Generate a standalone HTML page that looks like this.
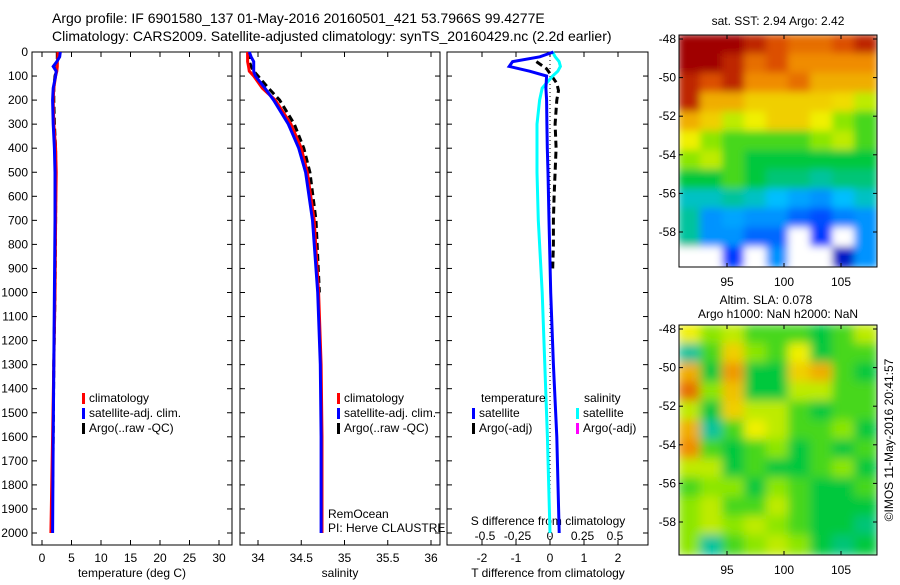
<!DOCTYPE html>
<html><head><meta charset="utf-8"><style>
body{margin:0;background:#fff}
svg text{font-family:"Liberation Sans",sans-serif;font-size:12px;fill:#000}
</style></head><body>
<svg id="s" width="900" height="580" viewBox="0 0 900 580">
<text x="52" y="23" style="font-size:14px">Argo profile: IF 6901580_137 01-May-2016 20160501_421 53.7966S 99.4277E</text>
<text x="52" y="41" style="font-size:14px">Climatology: CARS2009. Satellite-adjusted climatology: synTS_20160429.nc (2.2d earlier)</text>
</svg>
<script>
const depths=[0,20,40,60,80,100,150,200,300,400,500,700,1000,1300,1600,2000];
const tempClim=[2.7,2.7,2.6,2.6,2.5,2.3,2.0,1.9,2.0,2.3,2.4,2.3,2.2,2.0,1.8,1.5];
const tempSat=[3.1,3.0,2.5,1.9,2.4,2.3,1.9,1.8,1.9,2.1,2.2,2.2,2.1,2.0,1.9,1.8];
const tempArgo=[2.6,2.6,2.6,2.5,2.4,2.2,2.0,2.0,2.1,2.3,2.3,2.3,2.2,2.0,1.9,1.7];
const salClim=[33.88,33.88,33.88,33.89,33.9,33.95,34.05,34.2,34.38,34.5,34.57,34.65,34.7,34.73,34.74,34.74];
const salSat=[33.9,33.92,33.95,33.95,33.95,33.97,34.08,34.18,34.35,34.47,34.55,34.63,34.69,34.72,34.73,34.73];
const salArgoDepths=[0,20,40,60,80,100,150,200,300,400,500,700,1000];
const salArgo=[33.9,33.9,33.9,33.92,33.95,34.0,34.12,34.25,34.42,34.53,34.6,34.67,34.71];
const tDiffSat=[0.1,-0.3,-1.1,-1.2,-0.6,-0.1,-0.12,-0.1,-0.09,-0.08,-0.06,-0.03,0.02,0.1,0.2,0.27];
const sDiffSat=[0.02,0.04,0.07,0.08,0.06,0.02,-0.06,-0.08,-0.1,-0.1,-0.1,-0.09,-0.06,-0.04,-0.02,0.0];
const tArgoDepths=[40,70,100,130,160,200,300,400,500,600,700,800,900];
const tDiffArgo=[-0.4,-0.1,0.05,0.2,0.25,0.2,0.15,0.18,0.15,0.12,0.1,0.1,0.08];
const depthTicks=[0,100,200,300,400,500,600,700,800,900,1000,1100,1200,1300,1400,1500,1600,1700,1800,1900,2000];
const tempTicks=[0,5,10,15,20,25,30];
const salTicks=[34,34.5,35,35.5,36];
const salTickLabels=['34','34.5','35','35.5','36'];
const tdTicks=[-2,-1,0,1,2];
const sdTicks=[-0.5,-0.25,0,0.25,0.5];
const sdTickLabels=['-0.5','-0.25','0','0.25','0.5'];
const latTicks=[-48,-50,-52,-54,-56,-58];
const lonTicks=[95,100,105];
const sstGrid=[
[1,1,1,0.95,0.9,0.85,0.85,0.9,0.95],
[1,1,0.95,0.85,0.9,0.8,0.8,0.8,0.8],
[0.95,0.9,0.95,0.8,0.8,0.85,0.75,0.75,0.75],
[0.95,0.75,0.75,0.7,0.7,0.7,0.7,0.68,0.6],
[0.75,0.7,0.6,0.65,0.7,0.7,0.65,0.55,0.5],
[0.65,0.55,0.5,0.5,0.5,0.5,0.55,0.6,0.5],
[0.55,0.6,0.5,0.45,0.45,0.45,0.45,0.45,0.45],
[0.45,0.45,0.5,0.45,0.42,0.42,0.4,0.42,0.42],
[0.38,0.38,0.4,0.38,0.35,0.32,0.3,0.35,0.38],
[0.4,0.3,0.32,0.3,0.3,0.25,0.22,0.28,0.3],
[0.4,0.3,0.3,0.25,0.25,-1,0.2,-1,0.3],
[-1,-1,0.2,-1,0.3,-1,-1,0.1,0.3]];
const slaGrid=[
[0.65,0.55,0.6,0.5,0.5,0.5,0.45,0.5,0.6],
[0.4,0.5,0.7,0.55,0.5,0.65,0.45,0.5,0.5],
[0.75,0.45,0.78,0.45,0.45,0.7,0.75,0.5,0.45],
[0.85,0.55,0.72,0.45,0.45,0.6,0.6,0.5,0.5],
[0.6,0.45,0.7,0.6,0.6,0.5,0.45,0.5,0.5],
[0.75,0.4,0.5,0.65,0.6,0.5,0.5,0.55,0.45],
[0.8,0.5,0.45,0.5,0.55,0.45,0.5,0.45,0.5],
[0.6,0.6,0.45,0.5,0.45,0.45,0.5,0.55,0.45],
[0.5,0.55,0.55,0.45,0.55,0.5,0.45,0.45,0.5],
[0.55,0.6,0.5,0.5,0.6,0.5,0.45,0.45,0.45],
[0.55,0.6,0.55,0.6,0.55,0.5,0.45,0.45,0.42],
[0.55,0.4,0.5,0.55,0.6,0.55,0.45,0.42,0.45]];

const NS='http://www.w3.org/2000/svg';const S=document.getElementById('s');
function mk(t,a,p){const e=document.createElementNS(NS,t);for(const k in a)e.setAttribute(k,a[k]);(p||S).appendChild(e);return e;}
const PT=52,PB=545;const yD=d=>PT+d*0.2405;
function txt(x,y,s,anchor,p){const e=mk('text',{x:x,y:y,'text-anchor':anchor||'start'},p);e.textContent=s;return e;}
function panel(name,x0,x1,xf,ticks,labels,leftLabels){
 const g=mk('g',{});
 
 
 const r=mk('rect',{x:x0,y:PT,width:x1-x0,height:PB-PT,fill:'none',stroke:'#000'},g);
 
 
 ticks.forEach((t,i)=>{const x=xf(t);
  mk('line',{x1:x,x2:x,y1:PT,y2:PT+5,stroke:'#000'},g);mk('line',{x1:x,x2:x,y1:PB,y2:PB-5,stroke:'#000'},g);
  const l=txt(x,562,labels[i],'middle',g);
  
  });
 depthTicks.forEach(d=>{const y=yD(d);mk('line',{x1:x0,x2:x0+5,y1:y,y2:y,stroke:'#000'},g);mk('line',{x1:x1,x2:x1-5,y1:y,y2:y,stroke:'#000'},g);
  if(leftLabels){const l=txt(x0-4,y+4,String(d),'end',g);
  
  }});
 return g;}
function line(g,xs,ds,xf,col,dash,name){
 const pts=xs.map((v,i)=>xf(v).toFixed(1)+','+yD(ds[i]).toFixed(1)).join(' ');
 const e=mk('polyline',{points:pts,fill:'none',stroke:col,'stroke-width':3});
 if(dash)e.setAttribute('stroke-dasharray','7,4');
 
 }
function legend(items,x,y){items.forEach((it,i)=>{const yy=y+i*15;
 const m=mk('rect',{x:x,y:yy-9,width:3,height:11,fill:it[1]});
 
 
 const t=txt(x+7,yy,it[0]);
 
 });}
const xT=v=>42+v*5.9;
const g1=panel('temperature-panel',32,232,xT,tempTicks,tempTicks.map(String),true);
line(g1,tempArgo,depths,xT,'#000',true,'temp-argo-line');
line(g1,tempClim,depths,xT,'#f00',false,'temp-clim-line');
line(g1,tempSat,depths,xT,'#00f',false,'temp-sat-line');
let t=txt(132,577,'temperature (deg C)','middle');
legend([['climatology','#f00'],['satellite-adj. clim.','#00f'],['Argo(..raw -QC)','#000']],82,402);
const xS=v=>258+(v-34)*86.5;
const g2=panel('salinity-panel',240,440,xS,salTicks,salTickLabels,false);
line(g2,salArgo,salArgoDepths,xS,'#000',true,'sal-argo-line');
line(g2,salClim,depths,xS,'#f00',false,'sal-clim-line');
line(g2,salSat,depths,xS,'#00f',false,'sal-sat-line');
t=txt(340,577,'salinity','middle');
legend([['climatology','#f00'],['satellite-adj. clim.','#00f'],['Argo(..raw -QC)','#000']],337,402);
t=txt(328,518,'RemOcean');
t=txt(328,532,'PI: Herve CLAUSTRE');
const xTD=v=>550+v*34;const xSD=v=>550+v*130;
const g3=panel('difference-panel',447,648,xTD,tdTicks,tdTicks.map(String),false);
mk('line',{x1:xTD(0),x2:xTD(0),y1:PT,y2:PB,stroke:'#000','stroke-dasharray':'1,3'},g3);
sdTicks.forEach((v,i)=>{const l=txt(xSD(v),540,sdTickLabels[i],'middle',g3);});
t=txt(548,525,'S difference from climatology','middle',g3);
line(g3,tDiffArgo,tArgoDepths,xTD,'#000',true,'tdiff-argo-line');
line(g3,sDiffSat,depths,xSD,'#0ff',false,'sdiff-sat-line');
line(g3,tDiffSat,depths,xTD,'#00f',false,'tdiff-sat-line');
t=txt(548,577,'T difference from climatology','middle');
t=txt(481,402,'temperature');
t=txt(584,402,'salinity');
legend([['satellite','#00f'],['Argo(-adj)','#000']],472,417);
legend([['satellite','#0ff'],['Argo(-adj)','#f0f']],576,417);
function jet(v){const c=[[0,[0,0,140]],[0.2,[0,60,255]],[0.35,[0,190,255]],[0.45,[0,200,60]],[0.55,[140,230,0]],[0.65,[240,240,0]],[0.8,[240,140,0]],[0.9,[220,80,0]],[1,[160,0,0]]];
 for(let i=1;i<c.length;i++){if(v<=c[i][0]){const a=c[i-1],b=c[i],f=(v-a[0])/(b[0]-a[0]);return 'rgb('+a[1].map((x,k)=>Math.round(x+(b[1][k]-x)*f)).join(',')+')';}}return 'rgb(160,0,0)';}
function map(name,grid,top,bot,latY,blur){
 const L=679,R=877;const lonX=v=>727+(v-95)*11.4;
 const g=mk('g',{});
 
 
 const rows=grid.length,cols=grid[0].length,cw=(R-L)/cols,ch=(bot-top)/rows;
 const cg=mk('g',{'clip-path':'url(#c'+top+')'},g);
 const cp=mk('clipPath',{id:'c'+top});mk('rect',{x:L,y:top,width:R-L,height:bot-top},cp);
 if(blur){const f=mk('filter',{id:'f'+top,x:'-10%',y:'-10%',width:'120%',height:'120%'});mk('feGaussianBlur',{stdDeviation:blur},f);}
 const ig=mk('g',blur?{filter:'url(#f'+top+')'}:{},cg);
 grid.forEach((row,r)=>row.forEach((v,c)=>{const e=mk('rect',{x:L+c*cw-1,y:top+r*ch-1,width:cw+2,height:ch+2,fill:v<0?'#fff':jet(v)},ig);
  
  }));
 mk('rect',{x:L,y:top,width:R-L,height:bot-top,fill:'none',stroke:'#000'},g);
 latTicks.forEach(v=>{const y=latY(v);mk('line',{x1:L,x2:L+4,y1:y,y2:y,stroke:'#000'},g);mk('line',{x1:R,x2:R-4,y1:y,y2:y,stroke:'#000'},g);
  const l=txt(L-3,y+4,String(v),'end',g);});
 lonTicks.forEach(v=>{const x=lonX(v);mk('line',{x1:x,x2:x,y1:top,y2:top+4,stroke:'#000'},g);mk('line',{x1:x,x2:x,y1:bot,y2:bot-4,stroke:'#000'},g);
  const l=txt(x,bot+19,String(v),'middle',g);});}
map('sst-map',sstGrid,35,267,v=>39+(-48-v)*19.3,4);
map('sla-map',slaGrid,325,555,v=>329+(-48-v)*19.3,5);
t=txt(778,25,'sat. SST: 2.94  Argo: 2.42','middle');
t=txt(766,304,'Altim. SLA: 0.078','middle');
t=txt(778,318,'Argo h1000: NaN h2000: NaN','middle');
t=txt(0,0,'©IMOS 11-May-2016 20:41:57','middle');t.setAttribute('transform','translate(893,440) rotate(-90)');
</script>
</body></html>
